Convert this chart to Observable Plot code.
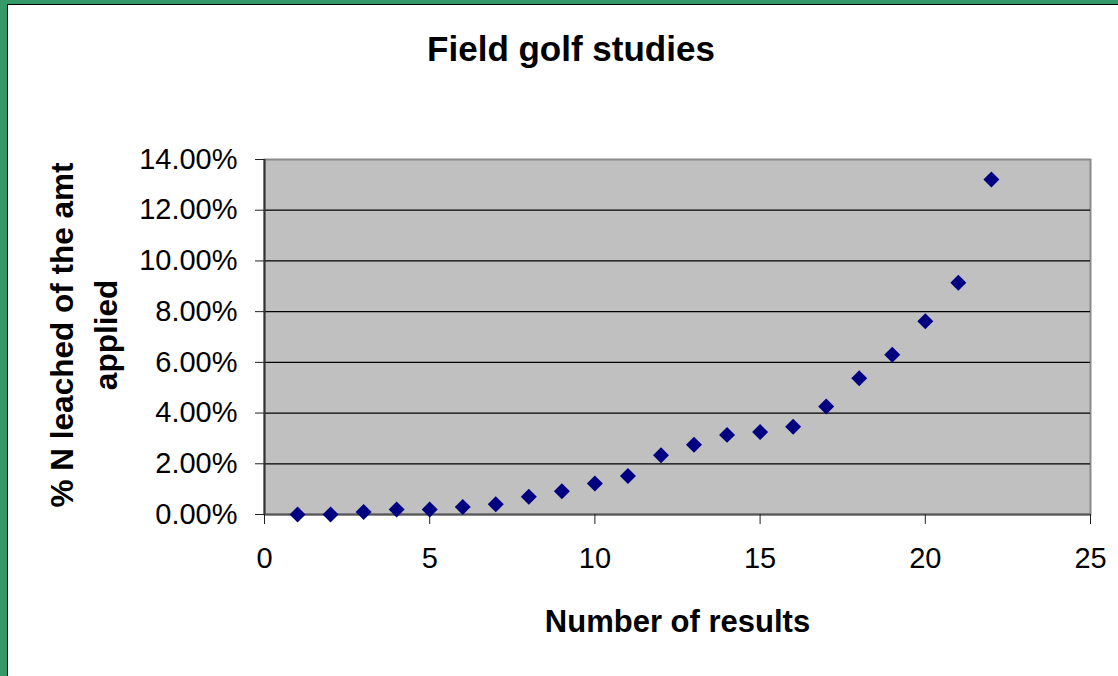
<!DOCTYPE html>
<html>
<head>
<meta charset="utf-8">
<script src="https://cdn.jsdelivr.net/npm/d3@7"></script>
<script src="https://cdn.jsdelivr.net/npm/@observablehq/plot@0.6"></script>
<style>
  body { margin: 0; }
  #page { position: relative; width: 1118px; height: 676px; background: #339966; overflow: hidden; font-family: "Liberation Sans", Arial, sans-serif; }
  #inner { position: absolute; left: 7px; top: 4px; right: 0; bottom: 0; background: #fff; border-left: 1px solid #000; border-top: 1px solid #000; }
  #title { position: absolute; left: 0; width: 1142px; top: 29px; text-align: center; font-size: 35px; line-height: 40px; font-weight: bold; color: #000; }
  #chart { position: absolute; left: 0; top: 90px; }
  #chart svg { overflow: visible; }
</style>
</head>
<body>
<div id="page">
  <div id="inner"></div>
  <div id="title"></div>
  <div id="chart"></div>
</div>
<script>
const titleText = "Field golf studies";
const xLabel = "Number of results";
const yLabel = "% N leached of the amt\napplied";
const results = [1, 2, 3, 4, 5, 6, 7, 8, 9, 10, 11, 12, 13, 14, 15, 16, 17, 18, 19, 20, 21, 22];
const leached = [0.0000, 0.0000, 0.0010, 0.0020, 0.0020, 0.0030, 0.0040, 0.0070, 0.0092, 0.0122, 0.0152, 0.0234, 0.0275, 0.0314, 0.0325, 0.0346, 0.0426, 0.0537, 0.0630, 0.0762, 0.0914, 0.1321];
const xTicks = [0, 5, 10, 15, 20, 25];
const yTicks = [0, 0.02, 0.04, 0.06, 0.08, 0.10, 0.12, 0.14];

document.getElementById("title").textContent = titleText;

const data = results.map((r, i) => ({x: r, y: leached[i]}));

const chart = Plot.plot({
  width: 1118,
  height: 586,
  marginLeft: 264,
  marginRight: 28,
  marginTop: 69,
  marginBottom: 162,
  style: {fontFamily: "Liberation Sans, Arial, sans-serif", fontSize: "29px", color: "#000", background: "transparent", overflow: "visible"},
  x: {domain: [0, 25]},
  y: {domain: [0, 0.14]},
  marks: [
    Plot.frame({fill: "#c0c0c0", stroke: "#8a8a8a", strokeWidth: 2}),
    Plot.ruleY(yTicks.filter(d => d > 0 && d < 0.14), {stroke: "#000", strokeWidth: 1.2}),
    Plot.ruleY([0], {stroke: "#555", strokeWidth: 2}),
    Plot.ruleX([0], {stroke: "#333", strokeWidth: 2}),
    Plot.axisY({ticks: yTicks, tickFormat: d3.format(".2%"), tickSize: 9, tickPadding: 18, label: null, stroke: "#222", fontSize: 29}),
    Plot.axisX({ticks: xTicks, tickFormat: d => String(d), tickSize: 10, tickPadding: 23, label: null, stroke: "#222", fontSize: 29}),
    Plot.dot(data, {x: "x", y: "y", symbol: "diamond2", r: 7.2, fill: "#000080", stroke: "none"}),
    Plot.text([xLabel], {text: d => d, frameAnchor: "bottom", dy: 117, fontSize: 31, fontWeight: "bold", fill: "#000"}),
    Plot.text([yLabel], {text: d => d, frameAnchor: "left", textAnchor: "middle", lineAnchor: "middle", dx: -184, dy: -2, rotate: -90, fontSize: 31.5, fontWeight: "bold", lineHeight: 1.4, fill: "#000"})
  ]
});
document.getElementById("chart").appendChild(chart);
</script>
</body>
</html>
